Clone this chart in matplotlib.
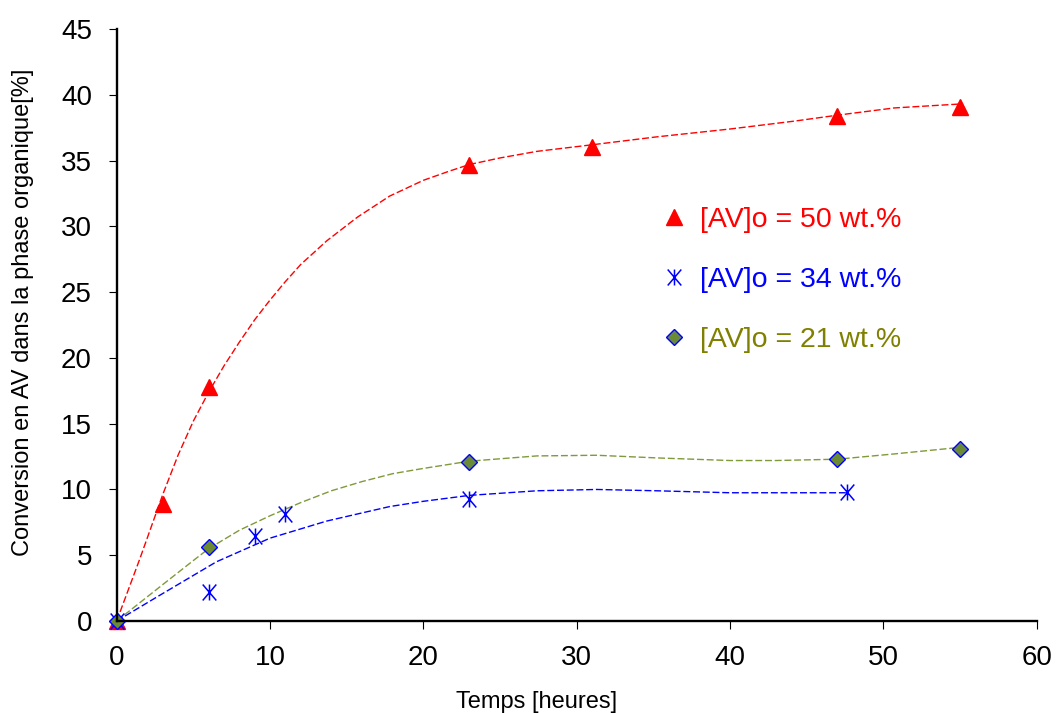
import numpy as np
import matplotlib.pyplot as plt
from matplotlib.path import Path

plt.rcParams['font.family'] = ['Liberation Sans', 'DejaVu Sans']

# measured points
t_50 = [0, 3, 6, 23, 31, 47, 55]
c_50 = [0, 8.9, 17.8, 34.7, 36.0, 38.4, 39.1]
t_34 = [0, 6, 9, 11, 23, 47.6]
c_34 = [0, 2.2, 6.5, 8.1, 9.3, 9.8]
t_21 = [0, 6, 23, 47, 55]
c_21 = [0, 5.6, 12.1, 12.3, 13.1]

# dashed trend curves
ct_50 = [0, 1.5, 3, 4, 5, 6, 7, 8, 9, 10, 11, 12, 13.7, 15.7, 17.8,
         20, 21.7, 23, 25, 27.4, 31, 35.2, 40, 44.2, 47, 50.7, 55]
cv_50 = [0, 4.7, 9.6, 12.6, 15.2, 17.4, 19.4, 21.2, 22.9, 24.4, 25.8, 27.1, 28.9, 30.7, 32.3,
         33.5, 34.2, 34.7, 35.2, 35.7, 36.2, 36.8, 37.4, 38.0, 38.45, 39.0, 39.3]
ct_34 = [0, 2.8, 6.5, 10, 13.7, 17.8, 20, 23, 27.4, 31.3, 35.2, 40, 47.6]
cv_34 = [0, 1.95, 4.5, 6.3, 7.6, 8.7, 9.1, 9.55, 9.9, 10.0, 9.9, 9.75, 9.75]
ct_21 = [0, 2.6, 5, 6, 8, 10, 12, 14, 16, 18, 20, 23, 27.4, 31.3, 35.2, 40, 43, 47, 50.7, 55]
cv_21 = [0, 2.4, 4.6, 5.5, 6.9, 8.0, 9.0, 9.9, 10.6, 11.2, 11.6, 12.15, 12.55, 12.6, 12.4, 12.2, 12.2, 12.3, 12.7, 13.2]

labels = ['[AV]o = 50 wt.%', '[AV]o = 34 wt.%', '[AV]o = 21 wt.%']
text_colors = ['#ff0000', '#0000ff', '#808000']

# excel style star marker: X with a vertical bar
star = Path([(-0.85, -1), (0.85, 1), (-0.85, 1), (0.85, -1), (0, -1), (0, 1)],
            [Path.MOVETO, Path.LINETO, Path.MOVETO, Path.LINETO, Path.MOVETO, Path.LINETO])

fig = plt.figure(figsize=(10.57, 7.13), dpi=100)
ax = fig.add_axes([0.1104, 0.129, 0.8704, 0.8303])

dash = (0, (5, 2))
ax.plot(ct_50, cv_50, color='#ff0000', lw=1.0, ls=dash)
ax.plot(ct_34, cv_34, color='#0000ff', lw=1.0, ls=dash)
ax.plot(ct_21, cv_21, color='#7f9a3a', lw=1.0, ls=dash)

h1, = ax.plot(t_50, c_50, ls='none', marker='^', ms=11.5, color='#ff0000', mec='#ff0000', clip_on=False)
h2, = ax.plot(t_34, c_34, ls='none', marker=star, ms=11.5, color='#0000ff', mew=1.1, clip_on=False)
h3, = ax.plot(t_21, c_21, ls='none', marker='D', ms=8.3, mfc='#6b8a35', mec='#0000ff', mew=1.0, clip_on=False)

leg = ax.legend([h1, h2, h3], labels, loc='upper left',
                bbox_to_anchor=(660 / 1057, 506 / 713), bbox_transform=fig.transFigure,
                frameon=False, fontsize=20.5, handlelength=1.0, handletextpad=0.4,
                labelspacing=1.19, borderpad=0, borderaxespad=0)
for txt, col in zip(leg.get_texts(), text_colors):
    txt.set_color(col)

ax.set_xlim(0, 60)
ax.set_ylim(0, 45)
ax.set_xticks(np.arange(0, 61, 10))
ax.set_yticks(np.arange(0, 46, 5))
ax.spines['top'].set_visible(False)
ax.spines['right'].set_visible(False)
ax.spines['left'].set_linewidth(1.7)
ax.spines['bottom'].set_linewidth(1.7)
ax.tick_params(direction='out', length=5.8, width=0.8, labelsize=20)
ax.tick_params(axis='x', pad=11.5)
ax.tick_params(axis='y', pad=12)

ax.set_xlabel('Temps [heures]', fontsize=17, va='baseline')
ax.xaxis.set_label_coords(0.456, -0.147)
ax.set_ylabel('Conversion en AV dans la phase organique[%]', fontsize=17, va='center')
ax.yaxis.set_label_coords(-0.1015, 0.521)

fig.savefig('out.png', dpi=100)
